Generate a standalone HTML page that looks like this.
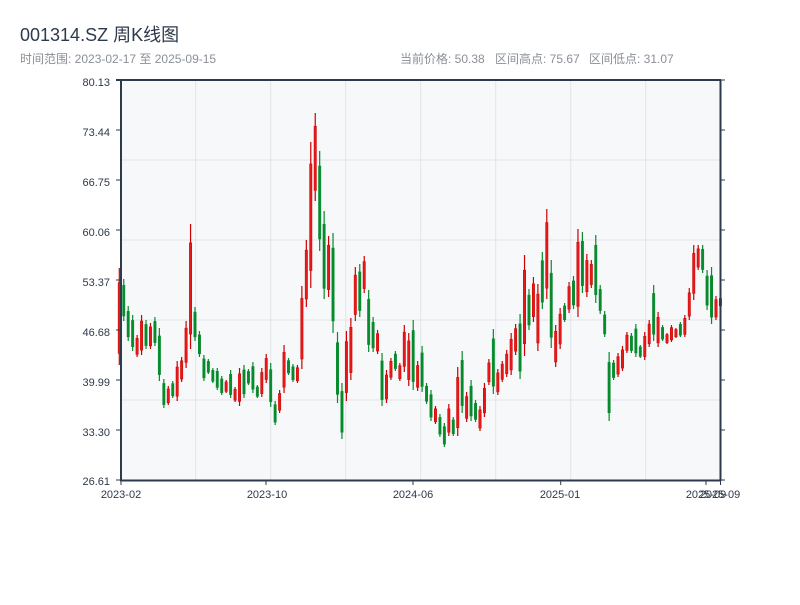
<!DOCTYPE html>
<html><head><meta charset="utf-8"><style>
body{margin:0;background:#fff;width:800px;height:600px;overflow:hidden;font-family:"Liberation Sans","Noto Sans CJK SC",sans-serif}
</style></head><body>
<svg id="s" width="800" height="600" xmlns="http://www.w3.org/2000/svg" font-family="Liberation Sans, Noto Sans CJK SC, sans-serif">
<text x="20" y="41" font-size="18" fill="#2d3a4b">001314.SZ 周K线图</text>
<text x="20" y="63" font-size="12" fill="#8a8f96">时间范围: 2023-02-17 至 2025-09-15</text>
<text x="400" y="63" font-size="12" fill="#8a8f96">当前价格: 50.38</text>
<text x="495" y="63" font-size="12" fill="#8a8f96">区间高点: 75.67</text>
<text x="589" y="63" font-size="12" fill="#8a8f96">区间低点: 31.07</text>
<rect x="121" y="80" width="600" height="400" fill="#f6f8fa"/>
<g stroke="#e1e5ea" stroke-width="1">
<line x1="121" y1="160" x2="720" y2="160"/><line x1="121" y1="240" x2="720" y2="240"/>
<line x1="121" y1="320" x2="720" y2="320"/><line x1="121" y1="400" x2="720" y2="400"/>
<line x1="195.7" y1="80" x2="195.7" y2="480"/><line x1="270.7" y1="80" x2="270.7" y2="480"/>
<line x1="345.7" y1="80" x2="345.7" y2="480"/><line x1="420.7" y1="80" x2="420.7" y2="480"/>
<line x1="495.7" y1="80" x2="495.7" y2="480"/><line x1="570.7" y1="80" x2="570.7" y2="480"/>
<line x1="645.7" y1="80" x2="645.7" y2="480"/>
</g>
<g id="c"></g>
<g stroke="#2d3a4b" stroke-width="2" fill="none">
<line x1="121" y1="80" x2="121" y2="481"/>
<line x1="720.5" y1="80" x2="720.5" y2="481"/>
<line x1="120" y1="480.5" x2="721" y2="480.5"/>
<line x1="116" y1="80" x2="721" y2="80"/>
</g>
<g id="t" stroke="#2d3a4b" stroke-width="1"></g>
<g font-size="11" fill="#2d3a4b" text-anchor="end">
<text x="110" y="86">80.13</text><text x="110" y="136">73.44</text><text x="110" y="186">66.75</text>
<text x="110" y="236">60.06</text><text x="110" y="286">53.37</text><text x="110" y="336">46.68</text>
<text x="110" y="386">39.99</text><text x="110" y="436">33.30</text><text x="110" y="485">26.61</text>
</g>
<g font-size="11" fill="#2d3a4b" text-anchor="middle">
<text x="121" y="498">2023-02</text><text x="267" y="498">2023-10</text><text x="413" y="498">2024-06</text>
<text x="560" y="498">2025-01</text><text x="706" y="498">2025-09</text><text x="720" y="498">2025-09</text>
</g>
</svg>
<script>
var d=[[268,365,1],[279,321,0],[306,341,0],[315,351,0],[335,357,1],[315,355,1],[320,349,0],[323,349,1],[317,346,0],[328,381,0],
[379,408,0],[386,405,1],[381,398,0],[361,401,1],[357,382,1],[321,368,1],[224,349,1],[307,341,0],[331,357,0],[355,381,0],
[359,374,0],[368,383,0],[368,390,0],[376,395,0],[380,393,1],[370,398,0],[387,402,1],[368,406,1],[365,398,0],[369,385,0],
[362,393,0],[385,398,0],[368,397,1],[354,383,1],[363,407,0],[401,425,0],[390,413,1],[345,393,1],[358,375,0],[364,382,0],
[365,383,1],[286,369,1],[240,307,1],[142,288,1],[113,201,1],[151,251,0],[211,299,0],[236,297,1],[233,333,0],[332,403,0],
[383,439,0],[331,401,1],[318,380,1],[267,321,1],[264,317,0],[256,293,1],[290,352,0],[317,352,0],[330,354,1],[353,406,0],
[370,403,1],[358,380,1],[351,371,0],[363,381,1],[325,372,1],[333,386,1],[320,390,0],[361,391,1],[346,392,0],[383,404,0],
[390,421,0],[406,424,1],[414,437,0],[423,447,0],[404,436,1],[417,436,0],[367,436,1],[351,413,0],[392,422,1],[380,421,0],
[400,422,0],[406,431,1],[383,417,1],[359,385,1],[329,394,0],[369,395,1],[361,382,1],[350,377,1],[333,375,1],[324,355,1],
[314,379,0],[255,356,1],[289,330,0],[277,322,1],[284,351,1],[252,309,0],[209,299,1],[260,348,0],[325,367,1],[308,349,1],
[303,322,0],[282,313,1],[276,309,0],[229,317,1],[232,293,0],[254,297,1],[260,288,1],[235,303,0],[285,314,0],[311,337,0],
[352,421,0],[360,380,0],[353,377,1],[346,371,1],[332,353,1],[333,353,0],[324,357,0],[345,358,0],[332,360,1],[320,347,1],
[285,341,0],[312,347,1],[325,341,0],[333,344,1],[325,342,1],[328,338,1],[322,337,0],[315,337,1],[288,320,1],[245,300,1],
[245,270,1],[245,273,0],[270,310,0],[267,324,0],[296,320,1],[297,307,1]];
var h='';
for(var i=0;i<d.length;i++){var x=119.3+i*4.453,a=d[i];var col=a[2]?'#cc0000':'#078a2c';
var len=a[1]-a[0];var bt=a[0]+len*0.15,bb=a[1]-len*0.12;
h+='<rect x="'+(x-0.6).toFixed(2)+'" y="'+a[0]+'" width="1.2" height="'+len+'" fill="'+col+'"/>';
h+='<rect x="'+(x-1.2).toFixed(2)+'" y="'+bt.toFixed(1)+'" width="2.4" height="'+(bb-bt).toFixed(1)+'" fill="'+(a[2]?'#e81818':col)+'" stroke="'+col+'" stroke-width="0.5"/>';}
document.getElementById('c').innerHTML=h;
var t='';
for(var k=0;k<=8;k++){var y=80+k*50;t+='<line x1="116" y1="'+y+'" x2="121" y2="'+y+'"/><line x1="720" y1="'+y+'" x2="725" y2="'+y+'"/>';}
[121,266,413,560.7,706,720.5].forEach(function(x){t+='<line x1="'+x+'" y1="480" x2="'+x+'" y2="485"/>';});
document.getElementById('t').innerHTML=t;
</script>
</body></html>
